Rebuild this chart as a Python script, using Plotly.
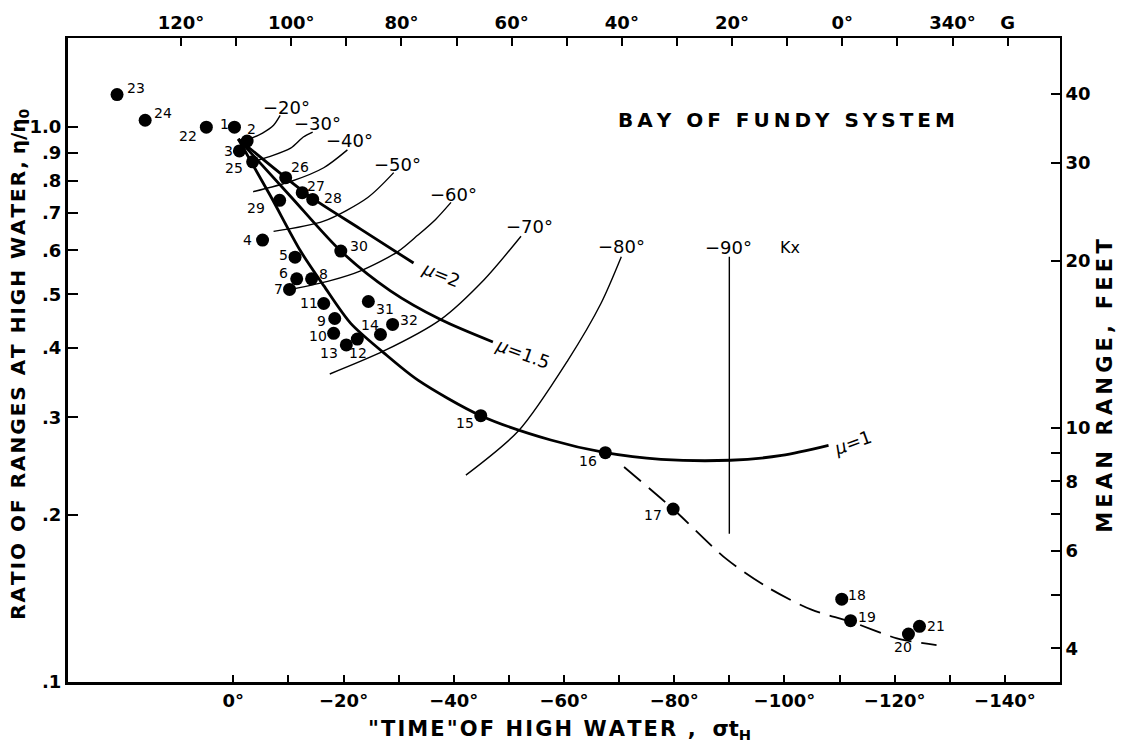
import numpy as np
import plotly.graph_objects as go

FONT = "DejaVu Sans"
INK = "black"
WEIGHT = "bold"

# ---------------- data ----------------
# Tide stations: phase of high water (deg) and ratio of ranges eta/eta0
station = list(range(1, 33))
phase = [-0.2, -2.5, -1.1, -5.3, -11.2, -11.5, -10.2, -14.2, -18.4, -18.2,
         -16.4, -22.5, -20.5, -26.7, -44.9, -67.5, -79.8, -110.4, -112.0, -122.5,
         -124.5, 4.9, 21.1, 16.0, -3.5, -9.5, -12.5, -14.4, -8.4, -19.5,
         -24.5, -28.9]
ratio = [1.0, 0.944, 0.906, 0.626, 0.583, 0.533, 0.510, 0.533, 0.452, 0.425,
         0.481, 0.415, 0.405, 0.423, 0.302, 0.259, 0.205, 0.141, 0.129, 0.122,
         0.126, 1.0, 1.145, 1.029, 0.866, 0.811, 0.762, 0.741, 0.738, 0.598,
         0.485, 0.441]

# Theoretical response curves for friction parameter mu
mu1_phase = [-0.9, -6.7, -12.2, -16.4, -21.3, -27.3, -33.5, -44.9, -57.6, -67.5,
             -77.6, -90.2, -99.5, -108.0]
mu1_ratio = [0.952, 0.753, 0.598, 0.518, 0.443, 0.392, 0.350, 0.302, 0.273, 0.259,
             0.252, 0.251, 0.256, 0.267]
mu15_phase = [-0.9, -10.4, -19.5, -28.5, -37.6, -47.1]
mu15_ratio = [0.952, 0.750, 0.598, 0.507, 0.450, 0.410]
mu2_phase = [-0.9, -9.5, -14.4, -23.1, -32.7]
mu2_ratio = [0.952, 0.811, 0.744, 0.655, 0.569]

# Lines of constant Kx
kx_values = [-20, -30, -40, -50, -60, -70, -80, -90]
kx_phase = [
    [-2.5, -5.3, -7.3, -8.5],
    [-3.5, -6.4, -10.4, -12.7, -14.4],
    [-3.6, -10.4, -16.4, -20.7],
    [-7.3, -16.4, -24.4, -29.1],
    [-10.5, -17.6, -23.1, -29.8, -33.5, -36.7, -39.5],
    [-17.5, -27.3, -37.6, -45.5, -52.2],
    [-42.2, -51.8, -60.7, -66.7, -70.4],
    [-90.0, -90.0],
]
kx_ratio = [
    [0.948, 0.976, 1.008, 1.05],
    [0.866, 0.884, 0.917, 0.960, 0.980],
    [0.765, 0.798, 0.845, 0.910],
    [0.649, 0.677, 0.747, 0.828],
    [0.510, 0.529, 0.551, 0.596, 0.639, 0.682, 0.732],
    [0.359, 0.395, 0.450, 0.531, 0.636],
    [0.236, 0.284, 0.380, 0.481, 0.584],
    [0.185, 0.584],
]

# Dashed extension through the outer stations
ext_phase = [-70.9, -79.8, -89.5, -97.1, -104.9, -112.0, -120.4, -127.6]
ext_ratio = [0.244, 0.205, 0.1665, 0.1478, 0.135, 0.1285, 0.1199, 0.1165]

# Axis ticks
x_ticks = list(range(0, -141, -10))
g_ticks = list(range(120, -31, -10))
y_ticks = [0.1, 0.2, 0.3, 0.4, 0.5, 0.6, 0.7, 0.8, 0.9, 1.0]
y_labels = [".1", ".2", ".3", ".4", ".5", ".6", ".7", ".8", ".9", "1.0"]
ft_ticks = [4, 5, 6, 7, 8, 9, 10, 20, 30, 40]
ft_labels = ["4", "", "6", "", "8", "", "10", "20", "30", "40"]

FEET_PER_UNIT = 34.8      # mean range (ft) corresponding to ratio 1
G_OFFSET = 110.5          # Greenwich epoch minus local phase (deg)
X_RANGE = [30, -150]
Y_LOG_RANGE = [-1.0, 0.1607]

# ---------------- helpers ----------------
def deg(v):
    return ("\u2212" if v < 0 else "") + f"{abs(v)}\u00b0"


def g_label(v):
    if v == -30:
        return "G"
    if v % 20:
        return ""
    return f"{v % 360}\u00b0"


def tracked(s, gap="\u200a"):
    return gap.join(s)


def font(size, weight=WEIGHT):
    return dict(size=size, family=FONT, color=INK, weight=weight)


label_shift = {  # (dx, dy) in screen pixels, dy downward
    1: (-10, -3), 2: (4, -12), 3: (-11, 0), 4: (-15, 0), 5: (-12, -2),
    6: (-13, -6), 7: (-11, 0), 8: (12, -5), 9: (-13, 2), 10: (-16, 3),
    11: (-15, -1), 12: (1, 14), 13: (-17, 8), 14: (-10, -9), 15: (-16, 7),
    16: (-17, 8), 17: (-20, 6), 18: (15, -4), 19: (16, -4), 20: (-5, 13),
    21: (17, 0), 22: (-18, 9), 23: (19, -7), 24: (18, -7), 25: (-19, 6),
    26: (14, -11), 27: (14, -7), 28: (20, -1), 29: (-24, 8), 30: (18, -5),
    31: (17, 7), 32: (16, -4),
}

fig = go.Figure()

# Kx lines (thin)
for ph, rt in zip(kx_phase, kx_ratio):
    fig.add_trace(go.Scatter(x=ph, y=rt, mode="lines",
                             line=dict(color=INK, width=1.4, shape="spline", smoothing=0.8),
                             hoverinfo="skip"))

# mu curves (heavy)
for ph, rt in [(mu1_phase, mu1_ratio), (mu15_phase, mu15_ratio), (mu2_phase, mu2_ratio)]:
    fig.add_trace(go.Scatter(x=ph, y=rt, mode="lines",
                             line=dict(color=INK, width=2.8, shape="spline", smoothing=0.8),
                             hoverinfo="skip"))

# dashed extension
fig.add_trace(go.Scatter(x=ext_phase, y=ext_ratio, mode="lines",
                         line=dict(color=INK, width=1.8, dash="22px,10px",
                                   shape="spline", smoothing=0.8),
                         hoverinfo="skip"))

# stations
fig.add_trace(go.Scatter(x=phase, y=ratio, mode="markers",
                         marker=dict(color=INK, size=13, line=dict(width=0)),
                         hoverinfo="skip"))

# secondary axes (Greenwich epoch on top, feet on the right)
fig.add_trace(go.Scatter(x=[], y=[], xaxis="x2", yaxis="y", showlegend=False))
fig.add_trace(go.Scatter(x=[], y=[], xaxis="x", yaxis="y2", showlegend=False))

ann = []
for s, t, r in zip(station, phase, ratio):
    dx, dy = label_shift[s]
    ann.append(dict(x=t, y=np.log10(r), xref="x", yref="y", text=str(s),
                    showarrow=False, xshift=dx, yshift=-dy,
                    xanchor="center", yanchor="middle", font=font(14, "normal")))

kx_shift = [(6, -8), (5, -9), (2, -9), (4, -8), (2, -8), (8, -10), (0, -10), (-1, -9)]
for v, ph, rt, (dx, dy) in zip(kx_values, kx_phase, kx_ratio, kx_shift):
    ann.append(dict(x=ph[-1], y=np.log10(max(rt)), xref="x", yref="y", text=deg(v),
                    showarrow=False, xshift=dx, yshift=-dy,
                    xanchor="center", yanchor="middle", font=font(18, "normal")))
ann.append(dict(x=kx_phase[-1][-1], y=np.log10(max(kx_ratio[-1])), xref="x", yref="y",
                text="Kx", showarrow=False, xshift=61, yshift=9,
                xanchor="center", yanchor="middle", font=font(16, "normal")))

for name, ph, rt, dx, dy, ang in [("2", mu2_phase, mu2_ratio, 28, 11, 22),
                                  ("1.5", mu15_phase, mu15_ratio, 30, 11, 20),
                                  ("1", mu1_phase, mu1_ratio, 24, -3, -20)]:
    ann.append(dict(x=ph[-1], y=np.log10(rt[-1]), xref="x", yref="y",
                    text="<i>\u03bc</i>=" + name, showarrow=False,
                    xshift=dx, yshift=-dy, textangle=ang,
                    xanchor="center", yanchor="middle", font=font(18, "normal")))

paper_text = dict(xref="paper", yref="paper", showarrow=False,
                  xanchor="center", yanchor="middle")
ann.append(dict(x=0.7238, y=0.8723,
                text=tracked("BAY OF FUNDY SYSTEM", "\u2009"),
                font=font(20), **paper_text))
ann.append(dict(x=-0.0494, y=0.494, textangle=-90,
                text=tracked("RATIO OF RANGES AT HIGH WATER,") + " \u03b7/\u03b7<sub>0</sub>",
                font=font(20), **paper_text))
ann.append(dict(x=1.0454, y=0.46, textangle=-90,
                text=tracked("MEAN RANGE, FEET", "\u2009"),
                font=font(21), **paper_text))
ann.append(dict(x=0.495, y=-0.0738,
                text=tracked("\"TIME\"OF HIGH WATER , ") + " \u03c3t<sub>H</sub>",
                font=font(21), **paper_text))

axis_common = dict(showgrid=False, zeroline=False, ticks="inside", tickcolor=INK,
                   linecolor=INK, showline=True, tickfont=font(18))

fig.update_layout(
    width=1125, height=753,
    margin=dict(l=68, r=65, t=32, b=71),
    paper_bgcolor="white", plot_bgcolor="white",
    showlegend=False,
    font=dict(family=FONT, color=INK),
    xaxis=dict(range=X_RANGE, tickvals=x_ticks,
               ticktext=[deg(v) if v % 20 == 0 else "" for v in x_ticks],
               ticklen=7, tickwidth=2, linewidth=3, **axis_common),
    xaxis2=dict(range=[X_RANGE[0] + G_OFFSET, X_RANGE[1] + G_OFFSET],
                overlaying="x", side="top", anchor="y",
                tickvals=g_ticks, ticktext=[g_label(v) for v in g_ticks],
                ticklen=8, tickwidth=2, linewidth=2, **axis_common),
    yaxis=dict(type="log", range=Y_LOG_RANGE, tickvals=y_ticks, ticktext=y_labels,
               ticklen=10, tickwidth=2, linewidth=3, **axis_common),
    yaxis2=dict(type="log", overlaying="y", side="right", anchor="x",
                range=[v + np.log10(FEET_PER_UNIT) for v in Y_LOG_RANGE],
                tickvals=ft_ticks, ticktext=ft_labels,
                ticklen=9, tickwidth=2, linewidth=2, **axis_common),
    annotations=ann,
)

fig.write_html("out.html")
